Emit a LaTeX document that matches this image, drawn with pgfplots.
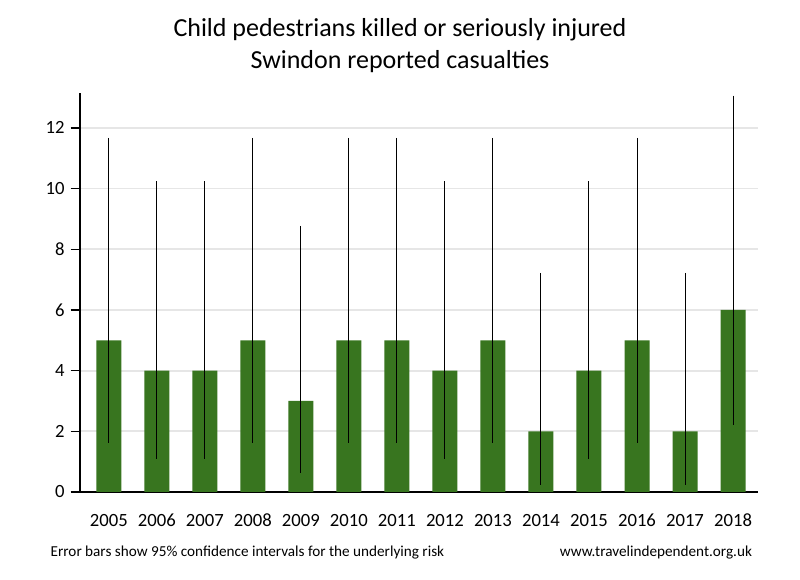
\documentclass[border=0pt]{standalone}
\usepackage{fontspec}
\setmainfont{Carlito}
\usepackage{pgfplots}
\usepackage{pgfplotstable}
\pgfplotsset{compat=1.18}
\definecolor{bargreen}{HTML}{38751F}
\definecolor{gridgray}{HTML}{E6E6E6}

% year index, casualties, CI upper minus value, value minus CI lower
\pgfplotstableread{
x  y  ep    em
0  5  6.67  3.38
1  4  6.24  2.91
2  4  6.24  2.91
3  5  6.67  3.38
4  3  5.77  2.38
5  5  6.67  3.38
6  5  6.67  3.38
7  4  6.24  2.91
8  5  6.67  3.38
9  2  5.22  1.76
10 4  6.24  2.91
11 5  6.67  3.38
12 2  5.22  1.76
13 6  7.06  3.80
}\casualties

\begin{document}
\begin{tikzpicture}[x=1pt,y=1pt]
\path[use as bounding box] (0,0) rectangle (600,435);
\begin{axis}[
    at={(60pt,66pt)}, anchor=south west,
    scale only axis,
    width=508.5pt, height=299.25pt,
    ybar, bar width=18.75pt,
    xmin=-0.6, xmax=13.52,
    ymin=0, ymax=13.15,
    axis x line=bottom, axis y line=left,
    axis line style={-, line width=1.4pt, black},
    xtick=data,
    xticklabels={2005,2006,2007,2008,2009,2010,2011,2012,2013,2014,2015,2016,2017,2018},
    major x tick style={draw=none},
    ytick={0,2,...,12},
    tick align=outside,
    major tick length=7pt,
    major y tick style={line width=1.1pt, black},
    ymajorgrids,
    grid style={line width=1.4pt, gridgray},
    tick label style={font=\fontsize{14}{16}\selectfont},
    /pgf/number format/assume math mode=true,
    xticklabel style={yshift=-6pt},
    yticklabel style={xshift=-1pt},
]
\addplot[fill=bargreen, draw=none,
    error bars/.cd, y dir=both, y explicit,
    error mark=none,
    error bar style={line width=0.75pt, black}]
    table[x=x, y=y, y error plus=ep, y error minus=em] {\casualties};
\end{axis}
\node[align=center, font=\fontsize{19.5}{24}\selectfont] at (300,401) {Child pedestrians killed or seriously injured\\Swindon reported casualties};
\node[anchor=west, font=\fontsize{11.4}{13}\selectfont] at (34.5,20.5) {Error bars show 95\% confidence intervals for the underlying risk};
\node[anchor=east, font=\fontsize{11.4}{13}\selectfont] at (567.5,20.5) {www.travelindependent.org.uk};
\end{tikzpicture}
\end{document}
